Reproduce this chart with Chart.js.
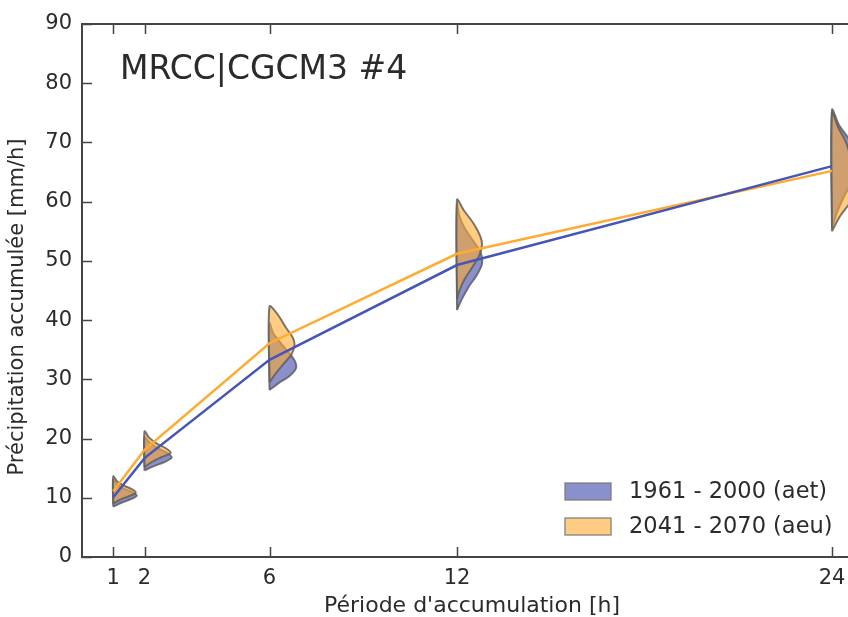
<!DOCTYPE html>
<html>
<head>
<meta charset="utf-8">
<script src="https://cdn.jsdelivr.net/npm/chart.js@4.4.1/dist/chart.umd.min.js"></script>
<style>
  html, body { margin: 0; padding: 0; background: #fff; overflow: hidden; }
  #wrap { width: 848px; height: 617px; overflow: hidden; }
</style>
</head>
<body>
<div id="wrap"><canvas id="myCanvas" width="870" height="617"></canvas></div>
<script>
// periodes d'accumulation (h)
const periods = [1, 2, 6, 12, 24];
const yTicks = [0, 10, 20, 30, 40, 50, 60, 70, 80, 90];

// moyennes (mm/h)
const aetMeans = [10.1, 16.7, 33.3, 49.3, 66.0];
const aeuMeans = [11.1, 18.1, 36.1, 51.2, 65.2];

// distributions : [valeur, demi-largeur en h]
const aetViolins = [
  [[8.5, 0], [9.2, 0.28], [9.8, 0.58], [10.4, 0.75], [11.0, 0.58], [11.6, 0.32], [12.3, 0.12], [13.0, 0]],
  [[14.6, 0], [15.3, 0.28], [16.0, 0.62], [16.8, 0.87], [17.6, 0.72], [18.4, 0.42], [19.3, 0.17], [20.2, 0]],
  [[28.2, 0], [29.4, 0.3], [30.6, 0.65], [31.9, 0.85], [33.2, 0.8], [34.6, 0.6], [36.2, 0.35], [37.8, 0.12], [39.5, 0]],
  [[41.7, 0], [43.5, 0.15], [45.6, 0.37], [47.5, 0.62], [49.5, 0.8], [51.5, 0.75], [53.5, 0.5], [55.5, 0.25], [57.5, 0.08], [59.5, 0]],
  [[55.5, 0], [58.0, 0.15], [60.5, 0.35], [63.0, 0.6], [65.5, 0.8], [68.0, 0.82], [70.5, 0.55], [73.0, 0.22], [75.5, 0]]
];
const aeuViolins = [
  [[9.0, 0], [9.7, 0.22], [10.3, 0.52], [10.9, 0.72], [11.5, 0.57], [12.1, 0.32], [12.8, 0.12], [13.6, 0]],
  [[15.2, 0], [16.0, 0.22], [16.8, 0.52], [17.6, 0.84], [18.4, 0.67], [19.2, 0.38], [20.2, 0.14], [21.2, 0]],
  [[29.5, 0], [31.0, 0.2], [32.6, 0.45], [34.2, 0.7], [35.8, 0.8], [37.0, 0.75], [38.7, 0.53], [40.9, 0.27], [42.3, 0]],
  [[43.5, 0], [45.0, 0.08], [47.0, 0.25], [49.0, 0.5], [51.0, 0.72], [52.7, 0.8], [54.1, 0.75], [56.3, 0.53], [58.6, 0.21], [60.3, 0]],
  [[55.0, 0], [57.5, 0.25], [60.0, 0.6], [62.5, 0.85], [65.0, 0.78], [67.5, 0.6], [70.0, 0.45], [72.5, 0.2], [75.0, 0]]
];

const legendLabels = ["1961 - 2000 (aet)", "2041 - 2070 (aeu)"];
const plotTitle = "MRCC|CGCM3 #4";
const xTitle = "Période d'accumulation [h]";
const yTitle = "Précipitation accumulée [mm/h]";

const aetLine = "#4656b6";
const aeuLine = "#ffab30";
const aetFill = "rgba(60, 70, 170, 0.6)";
const aeuFill = "rgba(255, 170, 50, 0.6)";
const edge = "rgba(95, 95, 95, 0.85)";
const axisColor = "#444";
const textColor = "#2b2b2b";
const FONT = "'DejaVu Sans', sans-serif";

function violinPoints(pos, shape) {
  const pts = shape.map(([v, w]) => ({ x: pos + w, y: v }));
  pts.push({ x: pos, y: shape[0][0] });
  return pts;
}

const datasets = [];
periods.forEach((p, i) => {
  datasets.push({
    data: violinPoints(p, aetViolins[i]),
    borderColor: edge, backgroundColor: aetFill, borderWidth: 2,
    fill: "shape", pointRadius: 0, tension: 0.3, order: 3
  });
});
periods.forEach((p, i) => {
  datasets.push({
    data: violinPoints(p, aeuViolins[i]),
    borderColor: edge, backgroundColor: aeuFill, borderWidth: 2,
    fill: "shape", pointRadius: 0, tension: 0.3, order: 2
  });
});
datasets.push({
  data: periods.map((p, i) => ({ x: p, y: aeuMeans[i] })),
  borderColor: aeuLine, borderWidth: 2.5, pointRadius: 0, fill: false, tension: 0, order: 1
});
datasets.push({
  data: periods.map((p, i) => ({ x: p, y: aetMeans[i] })),
  borderColor: aetLine, borderWidth: 2.5, pointRadius: 0, fill: false, tension: 0, order: 0
});

const decorations = {
  id: "decorations",
  afterDraw(chart) {
    const { ctx, chartArea } = chart;
    const xs = chart.scales.x, ys = chart.scales.y;
    ctx.save();
    ctx.strokeStyle = axisColor;
    ctx.lineWidth = 2;
    // cadre du haut
    ctx.beginPath();
    ctx.moveTo(chartArea.left, chartArea.top);
    ctx.lineTo(chartArea.right, chartArea.top);
    ctx.moveTo(chartArea.right, chartArea.top);
    ctx.lineTo(chartArea.right, chartArea.bottom);
    ctx.stroke();
    // graduations vers l'interieur
    ctx.lineWidth = 1.5;
    ctx.beginPath();
    periods.forEach(p => {
      const px = Math.round(xs.getPixelForValue(p)) + 0.5;
      ctx.moveTo(px, chartArea.bottom);
      ctx.lineTo(px, chartArea.bottom - 10);
      ctx.moveTo(px, chartArea.top);
      ctx.lineTo(px, chartArea.top + 10);
    });
    yTicks.forEach(v => {
      const py = Math.round(ys.getPixelForValue(v)) + 0.5;
      ctx.moveTo(chartArea.left, py);
      ctx.lineTo(chartArea.left + 10, py);
    });
    ctx.stroke();

    // titre
    ctx.fillStyle = textColor;
    ctx.font = "33px " + FONT;
    ctx.textAlign = "left";
    ctx.textBaseline = "alphabetic";
    ctx.fillText(plotTitle, 120, 79);

    // titres d'axes
    ctx.font = "22px " + FONT;
    ctx.textAlign = "center";
    ctx.textBaseline = "middle";
    ctx.fillText(xTitle, 472, 606);
    ctx.font = "21px " + FONT;
    ctx.save();
    ctx.translate(18, 307);
    ctx.rotate(-Math.PI / 2);
    ctx.fillText(yTitle, 0, 0);
    ctx.restore();

    // legende
    const fills = [aetFill, aeuFill];
    ctx.font = "22.5px " + FONT;
    ctx.textAlign = "left";
    legendLabels.forEach((lab, i) => {
      const top = 483 + i * 35;
      ctx.fillStyle = "#fff";
      ctx.fillRect(565, top, 46, 17);
      ctx.fillStyle = fills[i];
      ctx.fillRect(565, top, 46, 17);
      ctx.strokeStyle = "rgba(120,120,120,0.8)";
      ctx.lineWidth = 1.5;
      ctx.strokeRect(565, top, 46, 17);
      ctx.fillStyle = textColor;
      ctx.fillText(lab, 629, top + 9);
    });
    ctx.restore();
  }
};

const ctx = document.getElementById("myCanvas").getContext("2d");
new Chart(ctx, {
  type: "line",
  data: { datasets },
  plugins: [decorations],
  options: {
    responsive: false,
    animation: false,
    devicePixelRatio: 1,
    layout: { padding: { top: 24, right: 6.75, left: 0, bottom: 0 } },
    plugins: { legend: { display: false }, tooltip: { enabled: false } },
    scales: {
      x: {
        type: "linear",
        min: 0, max: 25,
        afterBuildTicks: s => { s.ticks = periods.map(v => ({ value: v })); },
        afterFit: s => { s.height = 60; },
        grid: { display: false, drawTicks: false },
        border: { display: true, color: axisColor, width: 2 },
        ticks: { padding: 9, color: textColor, font: { family: FONT, size: 21 }, maxRotation: 0, autoSkip: false }
      },
      y: {
        min: 0, max: 90,
        afterBuildTicks: s => { s.ticks = yTicks.map(v => ({ value: v })); },
        afterFit: s => { s.width = 82; },
        grid: { display: false, drawTicks: false },
        border: { display: true, color: axisColor, width: 2 },
        ticks: { padding: 10, color: textColor, font: { family: FONT, size: 21 } }
      }
    }
  }
});
</script>
</body>
</html>
